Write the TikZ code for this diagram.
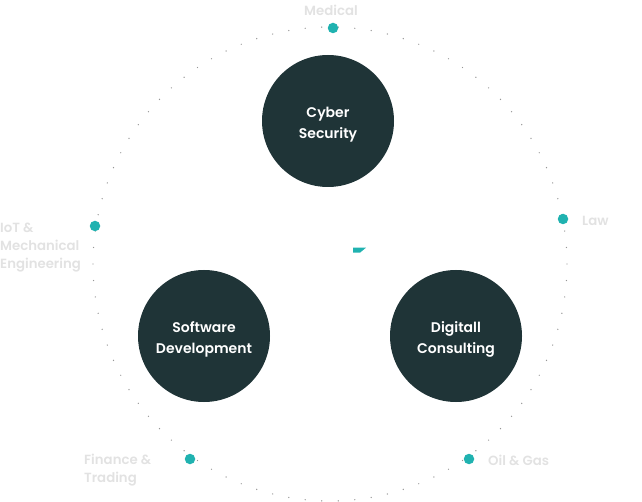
\documentclass[tikz,border=0pt]{standalone}
\usepackage{fontspec}
\setmainfont{Poppins}
\newfontfamily\medfont{Poppins SemiBold}
\usetikzlibrary{calc}
\definecolor{dark}{RGB}{31,52,55}
\definecolor{tealdot}{RGB}{32,178,176}
\definecolor{lab}{RGB}{226,226,226}
\definecolor{ringgray}{RGB}{150,150,150}
\begin{document}
\begin{tikzpicture}[x=1pt,y=-1pt,
  hub/.style={circle,fill=dark,minimum size=132pt,inner sep=0pt},
  hubtext/.style={text=white,align=center,inner sep=0pt,font=\medfont\fontsize{14}{21}\selectfont},
  pin/.style={circle,fill=tealdot,minimum size=10.5pt,inner sep=0pt},
  lbl/.style={text=lab,font=\medfont\fontsize{13.3}{18}\selectfont,inner sep=0pt,align=left},
  ringdot/.style={fill=ringgray}]
\useasboundingbox (0,0) rectangle (642,502);
\coordinate (c) at (330,264);
% dotted ring
\foreach \a in {0,4,...,356}
  \fill[ringdot] ($(c)+(\a:237)$) circle (0.7pt);
% hubs
\node[hub] (cyber) at (328,121) {};
\node[hub] (soft) at (204,336) {};
\node[hub] (dig) at (456,336) {};
\node[hubtext] (cyber-t) at ([yshift=-3.5pt]cyber.center) {Cyber\\Security};
\node[hubtext] (soft-t) at ([yshift=-3.5pt]soft.center) {Software\\Development};
\node[hubtext] (dig-t) at ([yshift=-3.5pt]dig.center) {Digitall\\Consulting};
% pins
\node[pin] (pmed) at (333,28) {};
\node[pin] (plaw) at (563,219) {};
\node[pin] (piot) at (95,226) {};
\node[pin] (pfin) at (190,459) {};
\node[pin] (poil) at (469,459) {};
% labels
\node[lbl,anchor=center] (lmed) at (331,10) {Medical};
\node[lbl,anchor=west] (llaw) at (582,221) {Law};
\node[lbl,anchor=west] (liot) at (0,248) {IoT \&\\Mechanical\\Engineering};
\node[lbl,anchor=west] (lfin) at (84,470) {Finance \&\\Trading};
\node[lbl,anchor=west] (loil) at (488,460) {Oil \& Gas};
% small teal wedge
\fill[tealdot] (353,247.7) -- (366,247.7) -- (360,252.7) -- (353,252.7) -- cycle;
\end{tikzpicture}
\end{document}
